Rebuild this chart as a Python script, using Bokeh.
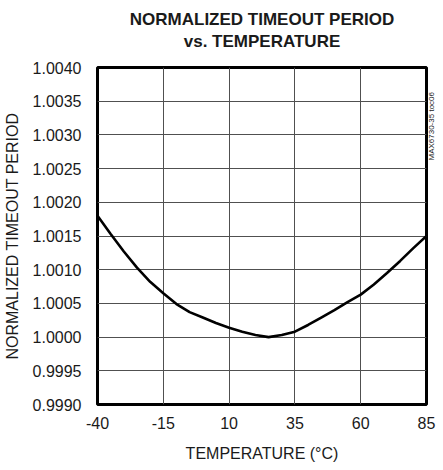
import math
from bokeh.plotting import figure
from bokeh.models import Range1d, FixedTicker, Title, LinearAxis
from bokeh.embed import file_html
from bokeh.resources import INLINE

# ---- data ----
temp_c = [-40, -35, -30, -25, -20, -15, -10, -5, 0, 5, 10, 15, 20, 25,
          30, 35, 40, 45, 50, 55, 60, 65, 70, 75, 80, 85]
period = [1.00180, 1.00153, 1.00127, 1.00103, 1.00082, 1.00065, 1.00049,
          1.00037, 1.00029, 1.00021, 1.00014, 1.00008, 1.00003, 1.00000,
          1.00003, 1.00008, 1.00018, 1.00029, 1.00040, 1.00052, 1.00063,
          1.00078, 1.00095, 1.00113, 1.00132, 1.00150]

x_ticks = [-40, -15, 10, 35, 60, 85]
x_tick_labels = ["-40", "-15", "10", "35", "60", "85"]
y_ticks = [0.9990, 0.9995, 1.0000, 1.0005, 1.0010, 1.0015, 1.0020,
           1.0025, 1.0030, 1.0035, 1.0040]
y_tick_labels = ["0.9990", "0.9995", "1.0000", "1.0005", "1.0010", "1.0015",
                 "1.0020", "1.0025", "1.0030", "1.0035", "1.0040"]

title_line1 = "NORMALIZED TIMEOUT PERIOD"
title_line2 = "vs. TEMPERATURE"
x_label = "TEMPERATURE (°C)"
y_label = "NORMALIZED TIMEOUT PERIOD"
note_text = "MAX6730-35 toc06"
note_at = 1.00262   # where the small side note starts along the y axis

FONT = "Liberation Sans"
TXT = "#1a1a1a"

p = figure(width=443, height=470, output_backend="svg", toolbar_location=None,
           title=None,
           x_range=Range1d(x_ticks[0], x_ticks[-1]),
           y_range=Range1d(y_ticks[0], y_ticks[-1]),
           min_border_left=95, min_border_right=10,
           min_border_top=67, min_border_bottom=66)

t2 = Title(text=title_line2, align="center", text_font=FONT,
           text_font_size="17px", text_font_style="bold", text_color=TXT,
           standoff=33)
t1 = Title(text=title_line1, align="center", text_font=FONT,
           text_font_size="17px", text_font_style="bold", text_color=TXT,
           standoff=-30)
p.add_layout(t2, "above")
p.add_layout(t1, "above")

p.outline_line_color = "black"
p.outline_line_width = 3
p.background_fill_color = "white"
p.border_fill_color = "white"

for ax in (p.xaxis[0], p.yaxis[0]):
    ax.axis_line_color = None
    ax.major_tick_line_color = None
    ax.minor_tick_line_color = None
    ax.major_tick_out = 0
    ax.major_tick_in = 0
    ax.major_label_text_font = FONT
    ax.major_label_text_font_size = "16px"
    ax.major_label_text_color = TXT
    ax.axis_label_text_font = FONT
    ax.axis_label_text_font_size = "16px"
    ax.axis_label_text_font_style = "normal"
    ax.axis_label_text_color = TXT

p.xaxis.ticker = FixedTicker(ticks=x_ticks)
p.xaxis.major_label_overrides = dict(zip(x_ticks, x_tick_labels))
p.xaxis.axis_label = x_label
p.xaxis.major_label_standoff = 12
p.xaxis.axis_label_standoff = 13

p.yaxis.ticker = FixedTicker(ticks=y_ticks)
p.yaxis.major_label_overrides = dict(zip(y_ticks, y_tick_labels))
p.yaxis.axis_label = y_label
p.yaxis.major_label_standoff = 16
p.yaxis.axis_label_standoff = 9

# small rotated side note on the right, drawn as a tick label of a bare axis
note_axis = LinearAxis(ticker=FixedTicker(ticks=[note_at]),
                       major_label_overrides={note_at: note_text},
                       major_label_orientation=math.pi / 2,
                       major_label_standoff=5,
                       major_label_text_font=FONT,
                       major_label_text_font_size="8px",
                       major_label_text_color="#222222",
                       axis_line_color=None, major_tick_line_color=None,
                       minor_tick_line_color=None,
                       major_tick_out=0, major_tick_in=0)
p.add_layout(note_axis, "right")

p.xgrid.ticker = FixedTicker(ticks=x_ticks)
p.ygrid.ticker = FixedTicker(ticks=y_ticks)
for g in (p.xgrid[0], p.ygrid[0]):
    g.grid_line_color = "#505050"
    g.grid_line_width = 1

p.line(temp_c, period, line_color="black", line_width=2.6)

open("out.html", "w").write(file_html(p, INLINE))
